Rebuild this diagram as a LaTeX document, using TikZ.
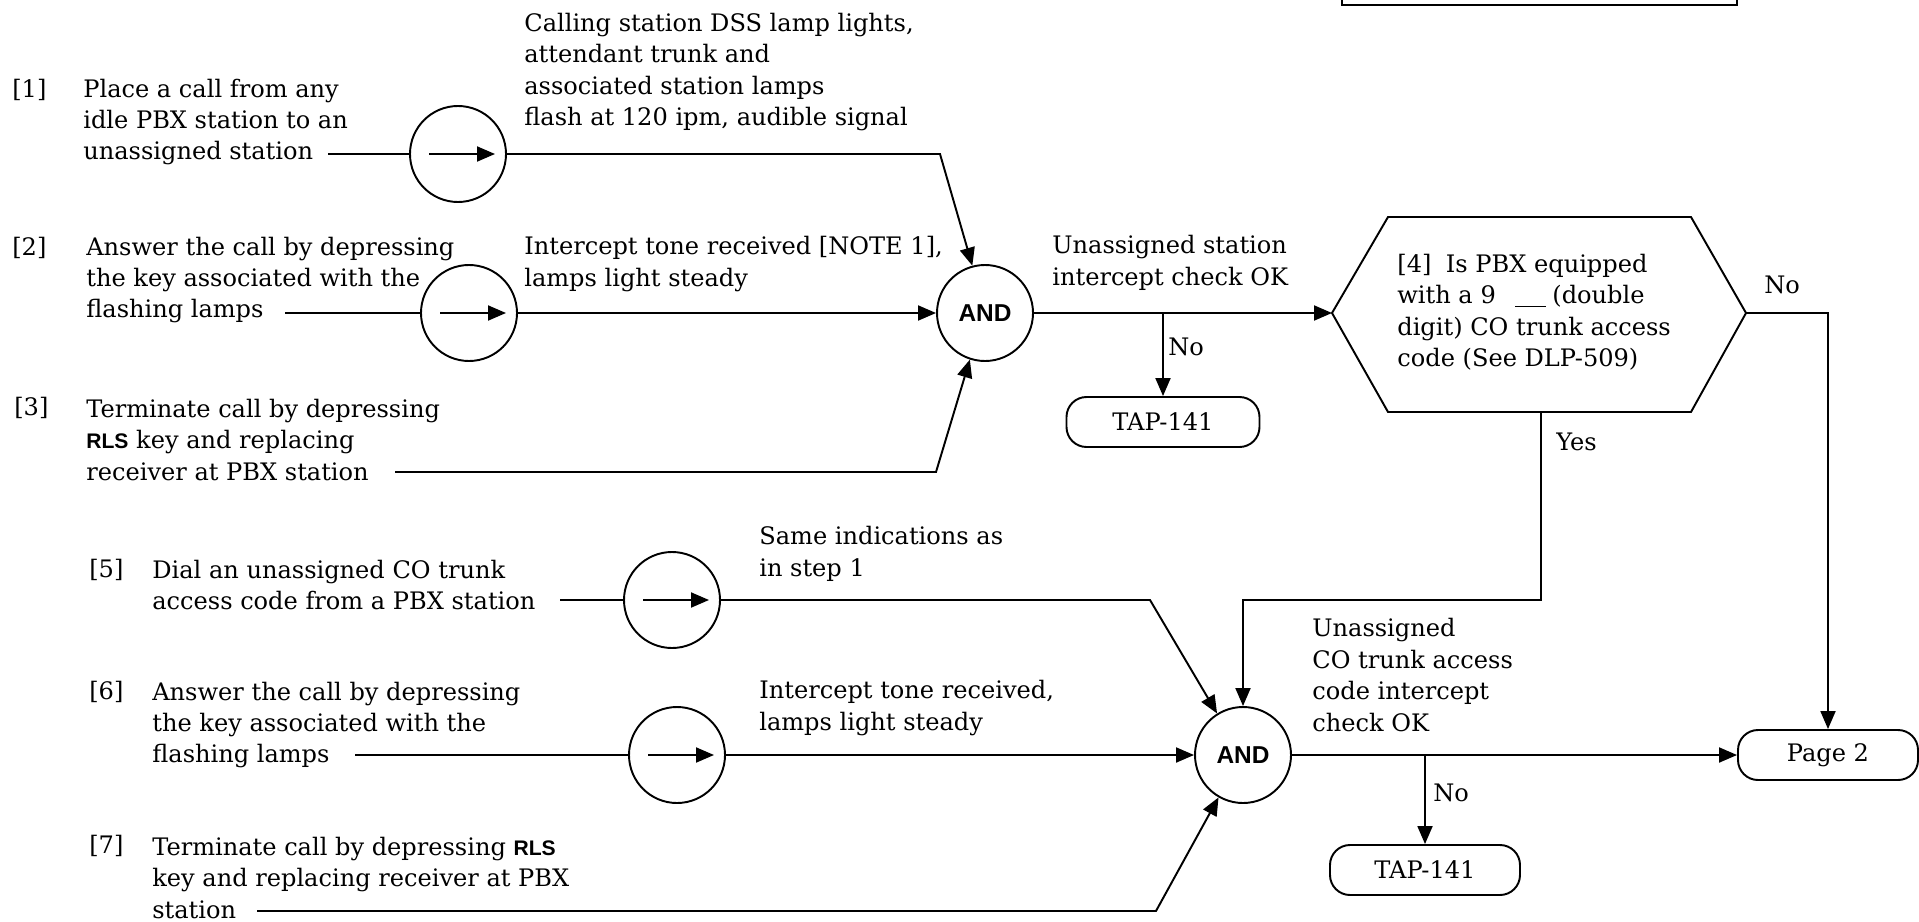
\documentclass[tikz,border=0pt]{standalone}
\usepackage{fontspec}
\setmainfont{DejaVu Serif}
\newfontfamily\keyfont{Liberation Sans}
\usetikzlibrary{arrows.meta,calc}

\tikzset{
  flow/.style={line width=1.1pt},
  flowarrow/.style={flow, -{Triangle[length=3.6mm,width=3mm]}},
  steptext/.style={anchor=west, align=left, inner sep=0pt,
    font=\fontsize{13.7}{17.9}\selectfont},
  timer/.style={circle, draw, line width=1.1pt, minimum size=19.2mm, inner sep=0pt},
  andgate/.style={circle, draw, line width=1.1pt, minimum size=19.2mm, inner sep=0pt,
    font=\keyfont\bfseries\fontsize{13.9}{16}\selectfont},
  exitbox/.style={rectangle, rounded corners=4mm, draw,
    line width=1.1pt, minimum height=10mm, inner sep=0pt,
    font=\fontsize{13.7}{16}\selectfont},
}
\newcommand{\rls}{{\keyfont\bfseries\fontsize{12}{17.9}\selectfont RLS}}

\begin{document}
\begin{tikzpicture}[x=0.2mm, y=-0.2mm]
  \useasboundingbox (0,0) rectangle (1919,922);

  % note box running off the top
  \draw[flow] (1342,-20) -- (1342,5) -- (1737,5) -- (1737,-20);

  % steps 1 to 3
  \node[steptext] (t1tag) at (12,90) {[1]};
  \node[steptext] (t1) at (83,122)
    {Place a call from any\\idle PBX station to an\\unassigned station};
  \node[steptext] (r1) at (524,72)
    {Calling station DSS lamp lights,\\attendant trunk and\\associated station lamps\\flash at 120 ipm, audible signal};
  \node[steptext] (t2tag) at (12,248) {[2]};
  \node[steptext] (t2) at (86,280)
    {Answer the call by depressing\\the key associated with the\\flashing lamps};
  \node[steptext] (r2) at (524,264)
    {Intercept tone received [NOTE 1],\\lamps light steady};
  \node[steptext] (t3tag) at (14,408) {[3]};
  \node[steptext] (t3) at (86,440)
    {Terminate call by depressing\\\rls{} key and replacing\\receiver at PBX station};

  \node[timer] (c1) at (458,154) {};
  \node[timer] (c2) at (469,313) {};
  \node[andgate] (and1) at (985,313) {AND};
  \draw[flowarrow] ($(c1)+(-29,0)$) -- ($(c1)+(37,0)$);
  \draw[flowarrow] ($(c2)+(-29,0)$) -- ($(c2)+(37,0)$);

  \coordinate (in1) at (328,154);
  \coordinate (k1) at (940,154);
  \coordinate (in2) at (285,313);
  \coordinate (in3) at (395,472);
  \coordinate (k3) at (936,472);
  \draw[flow] (in1) -- (c1);
  \draw[flowarrow] (c1) -- (k1) -- (and1.105);
  \draw[flow] (in2) -- (c2);
  \draw[flowarrow] (c2) -- (and1);
  \draw[flowarrow] (in3) -- (k3) -- (and1.252);

  \node[steptext] (r4) at (1052,263) {Unassigned station\\intercept check OK};
  \node[exitbox, minimum width=38.6mm] (tap1) at (1163,422) {TAP-141};
  \node[steptext] (no1) at (1168,347) {No};

  % decision 4
  \coordinate (q4w) at (1332,313);
  \coordinate (q4nw) at (1388,217);
  \coordinate (q4ne) at (1691,217);
  \coordinate (q4e) at (1746,313);
  \coordinate (q4se) at (1691,412);
  \coordinate (q4sw) at (1388,412);
  \coordinate (q4s) at (1541,412);
  \draw[flow] (q4w) -- (q4nw) -- (q4ne) -- (q4e) -- (q4se) -- (q4sw) -- cycle;
  \node[steptext] (q4) at (1397,312)
    {[4]\hspace{0.6em}Is PBX equipped\\with a 9\hspace{0.8em}\underline{\hspace{1.3em}}\hspace{0.25em}(double\\digit) CO trunk access\\code (See DLP-509)};

  \draw[flowarrow] (and1) -- (q4w);
  \draw[flowarrow] (tap1.north |- and1.east) -- (tap1.north);

  % steps 5 to 7
  \node[steptext] (t5tag) at (89,570) {[5]};
  \node[steptext] (t5) at (152,585)
    {Dial an unassigned CO trunk\\access code from a PBX station};
  \node[steptext] (r5) at (759,554) {Same indications as\\in step 1};
  \node[steptext] (t6tag) at (89,692) {[6]};
  \node[steptext] (t6) at (152,725)
    {Answer the call by depressing\\the key associated with the\\flashing lamps};
  \node[steptext] (r6) at (759,708) {Intercept tone received,\\lamps light steady};
  \node[steptext] (t7tag) at (89,846) {[7]};
  \node[steptext] (t7) at (152,878)
    {Terminate call by depressing \rls\\key and replacing receiver at PBX\\station};

  \node[timer] (c5) at (672,600) {};
  \node[timer] (c6) at (677,755) {};
  \node[andgate] (and2) at (1243,755) {AND};
  \draw[flowarrow] ($(c5)+(-29,0)$) -- ($(c5)+(37,0)$);
  \draw[flowarrow] ($(c6)+(-29,0)$) -- ($(c6)+(37,0)$);

  \coordinate (in5) at (560,600);
  \coordinate (k5) at (1150,600);
  \coordinate (in6) at (355,755);
  \coordinate (in7) at (257,911);
  \coordinate (k7) at (1156,911);
  \draw[flow] (in5) -- (c5);
  \draw[flowarrow] (c5) -- (k5) -- (and2.122);
  \draw[flow] (in6) -- (c6);
  \draw[flowarrow] (c6) -- (and2);
  \draw[flowarrow] (in7) -- (k7) -- (and2.240);

  \node[steptext] (r7) at (1312,675)
    {Unassigned\\CO trunk access\\code intercept\\check OK};
  \node[exitbox, minimum width=38mm] (tap2) at (1425,870) {TAP-141};
  \node[exitbox, minimum width=36mm] (page2) at (1828,755) {Page 2};
  \node[steptext] (no3) at (1433,793) {No};
  \node[steptext] (no2) at (1764,285) {No};
  \node[steptext] (yes) at (1556,442) {Yes};

  \coordinate (k4) at (1541,600);
  \draw[flowarrow] (q4s) -- (k4) -| (and2.north);
  \draw[flowarrow] (q4e) -| (page2.north);
  \draw[flowarrow] (and2) -- (page2);
  \draw[flowarrow] (tap2.north |- and2.east) -- (tap2.north);
\end{tikzpicture}
\end{document}
